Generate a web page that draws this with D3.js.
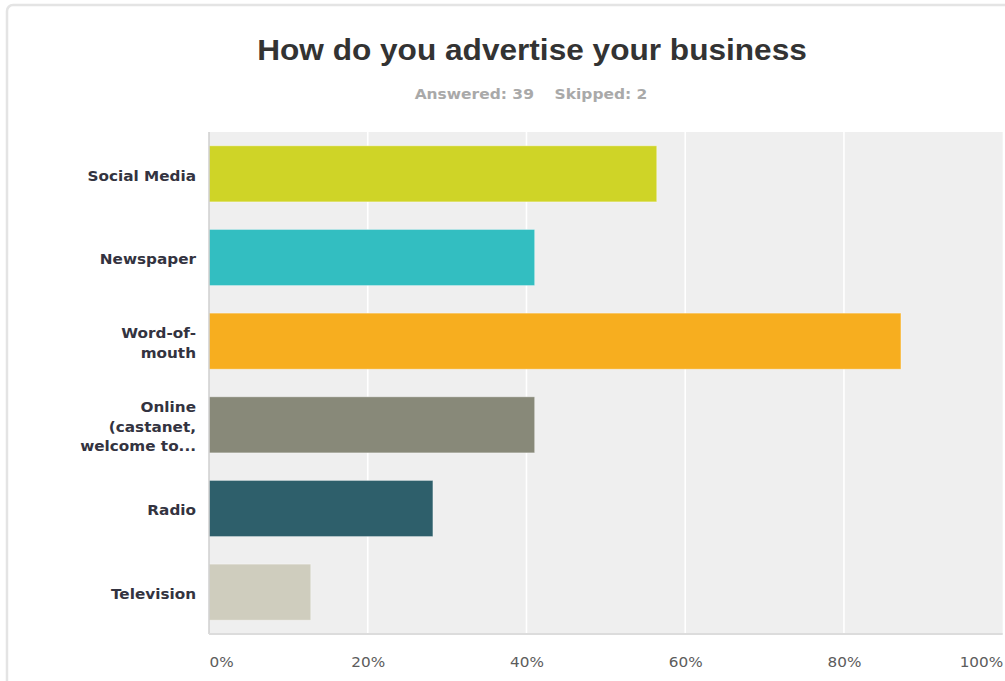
<!DOCTYPE html>
<html>
<head>
<meta charset="utf-8">
<script src="https://cdn.jsdelivr.net/npm/d3@7"></script>
<style>
  html, body { margin: 0; padding: 0; background: #fff; }
  svg { display: block; }
</style>
</head>
<body>
<svg id="chart" width="1005" height="681"></svg>
<script>
// Survey question: "How do you advertise your business" (39 answered, 2 skipped)
const categories = ["Social Media", "Newspaper", "Word-of-mouth", "Online (castanet, welcome to...", "Radio", "Television"];
const labelLines = [["Social Media"], ["Newspaper"], ["Word-of-", "mouth"], ["Online", "(castanet,", "welcome to..."], ["Radio"], ["Television"]];
const percents = [56.41, 41.03, 87.18, 41.03, 28.21, 12.82];
const colors = ["#cfd427", "#33bec1", "#f7ae1f", "#888979", "#2e5f6b", "#cfcdbe"];
const tickValues = [0, 20, 40, 60, 80, 100];
const tickLabels = ["0%", "20%", "40%", "60%", "80%", "100%"];
const title = "How do you advertise your business";
const subtitle = ["Answered: 39", "Skipped: 2"];

const svg = d3.select("#chart");
const stretch = 1.09;

// outer card border
svg.append("rect")
  .attr("x", 7).attr("y", 5)
  .attr("width", 1100).attr("height", 800)
  .attr("rx", 6)
  .attr("fill", "none")
  .attr("stroke", "#e4e4e4")
  .attr("stroke-width", 2.5);

const plot = { left: 209, right: 1002.7, top: 132, bottom: 634 };

const x = d3.scaleLinear().domain([0, 100]).range([plot.left, plot.right]);
const y = d3.scaleBand().domain(categories).range([plot.top, plot.bottom])
  .paddingInner(0.33).paddingOuter(0.165);

// helper: text widened horizontally around its anchor point
function wideText(sel, px, py) {
  return sel.attr("transform", `translate(${px},${py}) scale(${stretch},1)`);
}

// title + subtitle
wideText(svg.append("text"), 532, 60)
  .attr("text-anchor", "middle")
  .attr("font-family", "Liberation Sans, Arial, sans-serif")
  .attr("font-weight", "bold")
  .attr("font-size", 29)
  .attr("fill", "#333")
  .text(title);

const sub = wideText(svg.append("text"), 531, 99)
  .attr("text-anchor", "middle")
  .attr("font-family", "DejaVu Sans, Verdana, sans-serif")
  .attr("font-weight", "bold")
  .attr("font-size", 14.2)
  .attr("fill", "#a9a9a9");
sub.append("tspan").text(subtitle[0]);
sub.append("tspan").attr("dx", 19).text(subtitle[1]);

// plot background
svg.append("rect")
  .attr("x", plot.left).attr("y", plot.top)
  .attr("width", plot.right - plot.left)
  .attr("height", plot.bottom - plot.top)
  .attr("fill", "#efefef");

// vertical gridlines
svg.append("g")
  .selectAll("line")
  .data(tickValues.filter(v => v > 0 && v < 100))
  .join("line")
  .attr("x1", d => x(d)).attr("x2", d => x(d))
  .attr("y1", plot.top).attr("y2", plot.bottom)
  .attr("stroke", "#ffffff")
  .attr("stroke-width", 1.6);

// bars
svg.append("g")
  .selectAll("rect")
  .data(categories)
  .join("rect")
  .attr("x", x(0))
  .attr("y", d => y(d))
  .attr("width", (d, i) => x(percents[i]) - x(0))
  .attr("height", y.bandwidth())
  .attr("fill", (d, i) => colors[i])
  .attr("stroke", "rgba(255,255,255,0.35)")
  .attr("stroke-width", 1);

// axis lines
svg.append("line")
  .attr("x1", plot.left).attr("x2", plot.left)
  .attr("y1", plot.top).attr("y2", plot.bottom)
  .attr("stroke", "#cfcfcf").attr("stroke-width", 1.5);
svg.append("line")
  .attr("x1", plot.left).attr("x2", plot.right)
  .attr("y1", plot.bottom).attr("y2", plot.bottom)
  .attr("stroke", "#dcdcdc").attr("stroke-width", 2);

// x tick labels (first and last kept inside the plot edges)
const xAxis = d3.axisBottom(x)
  .tickValues(tickValues)
  .tickFormat((d, i) => tickLabels[i])
  .tickSize(0)
  .tickPadding(0);
const gx = svg.append("g")
  .attr("transform", `translate(0,${plot.bottom})`)
  .call(xAxis);
gx.select(".domain").remove();
gx.selectAll(".tick text")
  .attr("x", 0)
  .attr("y", 0)
  .attr("dy", null)
  .attr("font-family", "DejaVu Sans, Verdana, sans-serif")
  .attr("font-size", 14)
  .attr("fill", "#5c5c5c")
  .attr("text-anchor", (d, i) => i === 0 ? "start" : (i === tickValues.length - 1 ? "end" : "middle"))
  .attr("transform", `translate(0,32.5) scale(${stretch},1)`);

// category labels
const gy = svg.append("g");
categories.forEach((c, i) => {
  const lines = labelLines[i];
  const lh = 19.7;
  const cy = y(c) + y.bandwidth() / 2 + 1.2;
  const t = wideText(gy.append("text"), 196, cy - (lines.length - 1) * lh / 2)
    .attr("text-anchor", "end")
    .attr("dominant-baseline", "central")
    .attr("font-family", "DejaVu Sans, Verdana, sans-serif")
    .attr("font-weight", "bold")
    .attr("font-size", 14)
    .attr("fill", "#333340");
  lines.forEach((ln, k) => {
    t.append("tspan").attr("x", 0).attr("dy", k === 0 ? 0 : lh).text(ln);
  });
});
</script>
</body>
</html>
